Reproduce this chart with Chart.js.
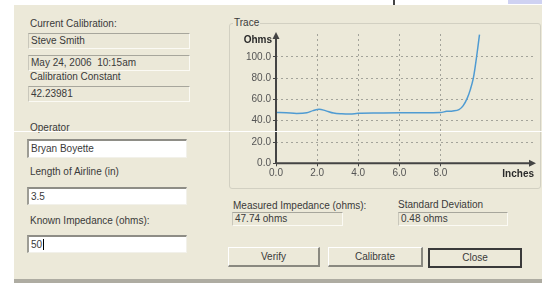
<!DOCTYPE html>
<html>
<head>
<meta charset="utf-8">
<script src="https://cdn.jsdelivr.net/npm/chart.js@4.4.1/dist/chart.umd.min.js"></script>
<style>
  body { margin: 0; background: #fff; font-family: "Liberation Sans", Arial, sans-serif; font-size: 10px; color: #3a3a3a; }
  #page { position: relative; width: 542px; height: 283px; overflow: hidden; background: #fff; }
  .abs { position: absolute; }
  #dialog { left: 14px; top: 5px; width: 528px; height: 274px; background: #ece9d9; }
  #dialogBottom { left: 14px; top: 279px; width: 528px; height: 4px; background: #aeaca2; }
  .lbl { position: absolute; line-height: 12px; white-space: nowrap; }
  .ro { position: absolute; box-sizing: border-box; border-top: 1px solid #a7a69c; border-left: 1px solid #c9c7bb; border-bottom: 1px solid #fbfaf4; border-right: 1px solid #fbfaf4; background: #ebe8d8; padding-left: 2px; line-height: 13px; white-space: nowrap; }
  .ed { position: absolute; box-sizing: border-box; border-top: 2px solid #8e8d86; border-left: 2px solid #9d9c94; border-bottom: 1px solid #f2f1ea; border-right: 1px solid #f2f1ea; background: #fff; padding-left: 2px; white-space: nowrap; }
  .btn { position: absolute; box-sizing: border-box; border-top: 1px solid #fff; border-left: 1px solid #fff; border-bottom: 2px solid #8a8980; border-right: 2px solid #8a8980; background: #ece9d9; text-align: center; }
  #trace { left: 229px; top: 23px; width: 312px; height: 166px; box-sizing: border-box; border: 1px solid #d2d0c2; border-radius: 3px; }
  #traceLbl { left: 233px; top: 17px; background: #ece9d9; padding: 0 1px; }
  #chartBox { position: absolute; left: 229px; top: 26px; width: 311px; height: 162px; }
</style>
</head>
<body>
<div id="page">
  <div class="abs" style="left:393px;top:0;width:2px;height:5px;background:#444;"></div>
  <div class="abs" style="left:508px;top:0;width:34px;height:4px;background:#cfd2f2;"></div>
  <div id="dialog" class="abs"></div>
  <div id="dialogBottom" class="abs"></div>

  <div class="lbl" style="left:30px;top:18px;">Current Calibration:</div>
  <div class="ro" style="left:28px;top:33px;width:162px;height:16px;">Steve Smith</div>
  <div class="ro" style="left:28px;top:55px;width:162px;height:16px;">May 24, 2006&nbsp; 10:15am</div>
  <div class="lbl" style="left:30px;top:71px;">Calibration Constant</div>
  <div class="ro" style="left:28px;top:86px;width:162px;height:16px;">42.23981</div>
  <div class="lbl" style="left:30px;top:122px;">Operator</div>
  <div class="ed" style="left:27px;top:139px;width:160px;height:19px;line-height:16px;">Bryan Boyette</div>
  <div class="lbl" style="left:30px;top:166px;">Length of Airline (in)</div>
  <div class="ed" style="left:27px;top:187px;width:160px;height:18px;line-height:15px;">3.5</div>
  <div class="lbl" style="left:30px;top:215px;">Known Impedance (ohms):</div>
  <div class="ed" style="left:27px;top:235px;width:160px;height:18px;line-height:15px;">50<span style="border-left:1px solid #000;margin-left:1px;"></span></div>

  <div id="trace" class="abs"></div>
  <div id="traceLbl" class="lbl">Trace</div>
  <div id="chartBox"><canvas id="chart"></canvas></div>

  <div class="lbl" style="left:233px;top:200px;">Measured Impedance (ohms):</div>
  <div class="ro" style="left:232px;top:212px;width:111px;height:14px;line-height:12px;">47.74 ohms</div>
  <div class="lbl" style="left:398px;top:199px;">Standard Deviation</div>
  <div class="ro" style="left:398px;top:212px;width:110px;height:14px;line-height:12px;">0.48 ohms</div>

  <div class="btn" style="left:228px;top:247px;width:92px;height:20px;line-height:17px;">Verify</div>
  <div class="btn" style="left:328px;top:247px;width:95px;height:20px;line-height:17px;">Calibrate</div>
  <div class="btn" style="left:428px;top:248px;width:94px;height:20px;line-height:16px;border:2px solid #3a3a3a;">Close</div>

  <div class="abs" style="left:0;top:131px;width:542px;height:1px;background:#fff;"></div>
</div>

<script>
// trace
const inches = [0, 0.5, 1.0, 1.5, 1.8, 2.1, 2.4, 2.8, 3.2, 3.6, 4.0, 5.0, 6.0, 7.0, 8.0, 8.3, 8.6, 8.9, 9.1, 9.3, 9.45, 9.6, 9.7, 9.8, 9.9];
const ohms = [47.8, 47.5, 46.8, 47.5, 49.5, 50.8, 49.5, 47.2, 46.5, 46.3, 47.0, 47.3, 47.5, 47.6, 47.8, 48.8, 49.2, 50.5, 54, 61, 69, 80, 92, 106, 121];
const xTicks = [0, 2, 4, 6, 8];
const yTicks = [0, 20, 40, 60, 80, 100];

const axisColor = '#444';
const gridColor = '#a3a39a';
const tickFont = { family: '"Liberation Sans", Arial, sans-serif', size: 10 };

const axesPlugin = {
  id: 'axesArrows',
  afterDraw: (chart) => {
    const { ctx, chartArea } = chart;
    const { left, right, top, bottom } = chartArea;
    ctx.save();
    ctx.strokeStyle = axisColor;
    ctx.fillStyle = axisColor;
    ctx.lineWidth = 2;

    // axes
    ctx.beginPath();
    ctx.moveTo(left, bottom);
    ctx.lineTo(left, top + 3);
    ctx.moveTo(left, bottom);
    ctx.lineTo(right - 3, bottom);
    ctx.stroke();

    // arrow heads
    ctx.beginPath();
    ctx.moveTo(left, top - 2);
    ctx.lineTo(left - 3.5, top + 5);
    ctx.lineTo(left + 3.5, top + 5);
    ctx.closePath();
    ctx.fill();
    ctx.beginPath();
    ctx.moveTo(right + 1, bottom);
    ctx.lineTo(right - 6, bottom - 3.5);
    ctx.lineTo(right - 6, bottom + 3.5);
    ctx.closePath();
    ctx.fill();

    // axis names
    ctx.font = 'bold 10px "Liberation Sans", Arial, sans-serif';
    ctx.fillStyle = '#2a2a2a';
    ctx.textAlign = 'right';
    ctx.textBaseline = 'middle';
    ctx.fillText('Ohms', left - 4, top + 6.5);
    ctx.fillText('Inches', right - 1, bottom + 11);
    ctx.restore();
  }
};

new Chart(document.getElementById('chart'), {
  type: 'line',
  data: {
    datasets: [{
      data: inches.map((x, i) => ({ x: x, y: ohms[i] })),
      borderColor: '#4f9bd2',
      borderWidth: 1.5,
      pointRadius: 0,
      cubicInterpolationMode: 'monotone',
      fill: false
    }]
  },
  options: {
    responsive: true,
    maintainAspectRatio: false,
    animation: false,
    layout: { padding: { top: 7, right: 5, left: 0, bottom: 0 } },
    plugins: { legend: { display: false }, tooltip: { enabled: false } },
    scales: {
      x: {
        type: 'linear',
        min: 0,
        max: 12.6,
        afterBuildTicks: (scale) => { scale.ticks = xTicks.map(v => ({ value: v })); },
        afterFit: (scale) => { scale.height = 24.7; },
        ticks: { color: '#555', font: tickFont, padding: 1, maxRotation: 0, callback: (v) => Number(v).toFixed(1) },
        grid: {
          color: (c) => (c.tick && c.tick.value === 0 ? 'rgba(0,0,0,0)' : gridColor),
          tickColor: axisColor,
          tickLength: 3,
          tickBorderDash: []
        },
        border: { display: false, dash: [2, 3] }
      },
      y: {
        type: 'linear',
        min: 0,
        max: 121.5,
        afterBuildTicks: (scale) => { scale.ticks = yTicks.map(v => ({ value: v })); },
        afterFit: (scale) => { scale.width = 47; },
        ticks: { color: '#555', font: tickFont, padding: 2, callback: (v) => Number(v).toFixed(1) },
        grid: {
          color: (c) => (c.tick && c.tick.value === 0 ? 'rgba(0,0,0,0)' : gridColor),
          tickColor: axisColor,
          tickLength: 3,
          tickBorderDash: []
        },
        border: { display: false, dash: [2, 3] }
      }
    }
  },
  plugins: [axesPlugin]
});
</script>
</body>
</html>
